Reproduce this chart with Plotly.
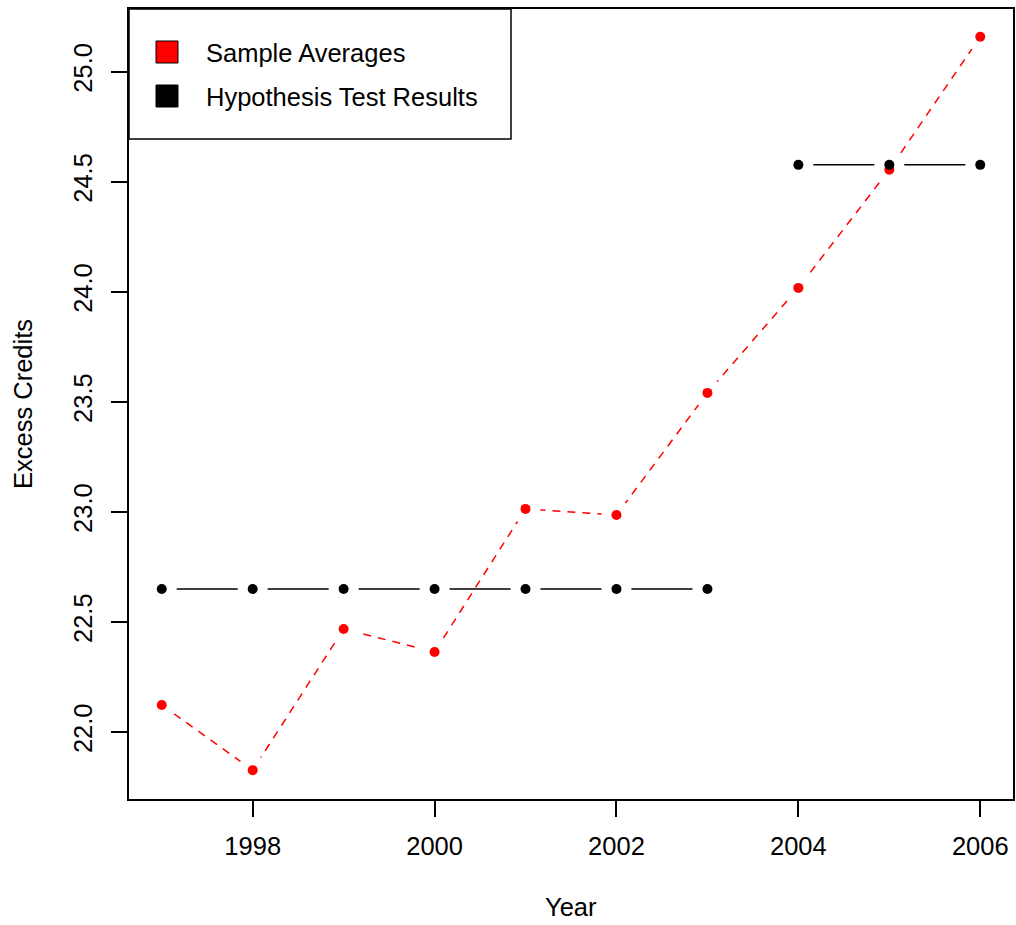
import plotly.graph_objects as go

years = [1997, 1998, 1999, 2000, 2001, 2002, 2003, 2004, 2005, 2006]
sample_averages = [22.123, 21.827, 22.468, 22.364, 23.014, 22.986, 23.541, 24.018, 24.555, 25.159]
hypothesis_results = [22.65, 22.65, 22.65, 22.65, 22.65, 22.65, 22.65, 24.577, 24.577, 24.577]
x_ticks = [1998, 2000, 2002, 2004, 2006]
y_ticks = [22.0, 22.5, 23.0, 23.5, 24.0, 24.5, 25.0]
legend_labels = ["Sample Averages", "Hypothesis Test Results"]

FONT = "Liberation Sans, Arial, sans-serif"
FS = 25.5

# break the hypothesis line where the tested value changes
hx, hy = [], []
for i, (x, y) in enumerate(zip(years, hypothesis_results)):
    if i > 0 and y != hypothesis_results[i - 1]:
        hx.append(None)
        hy.append(None)
    hx.append(x)
    hy.append(y)

fig = go.Figure()
# black line + halos (type = "b" gaps)
fig.add_trace(go.Scatter(x=hx, y=hy, mode="lines",
                         line=dict(color="black", width=1.5), hoverinfo="skip"))
fig.add_trace(go.Scatter(x=years, y=hypothesis_results, mode="markers",
                         marker=dict(color="white", size=30, line=dict(width=0)), hoverinfo="skip"))
# red dashed line + halos
fig.add_trace(go.Scatter(x=years, y=sample_averages, mode="lines",
                         line=dict(color="#FF0000", width=1.5, dash="8px,7px"), hoverinfo="skip"))
fig.add_trace(go.Scatter(x=years, y=sample_averages, mode="markers",
                         marker=dict(color="white", size=30, line=dict(width=0)), hoverinfo="skip"))
# points
fig.add_trace(go.Scatter(x=years, y=sample_averages, mode="markers",
                         marker=dict(color="#FF0000", size=10, line=dict(width=0))))
fig.add_trace(go.Scatter(x=years, y=hypothesis_results, mode="markers",
                         marker=dict(color="black", size=10, line=dict(width=0))))

axis_common = dict(showgrid=False, zeroline=False, showline=True, linecolor="black",
                   linewidth=1.5, mirror=True, ticks="outside", ticklen=16,
                   tickwidth=1.5, tickcolor="black",
                   tickfont=dict(family=FONT, size=FS, color="black"))

fig.update_xaxes(range=[1996.64, 2006.36], tickvals=x_ticks,
                 ticktext=[str(v) for v in x_ticks], ticklabelstandoff=8, **axis_common)
fig.update_yaxes(range=[21.696, 25.285], tickvals=y_ticks,
                 ticktext=[f"{v:.1f}" for v in y_ticks], tickangle=-90,
                 ticklabelstandoff=9, **axis_common)

W, H = 1016, 925
L, R, T, B = 129, 3, 9, 126
pw, ph = W - L - R, H - T - B


def px(x):
    return (x - L) / pw


def py(y):
    return (H - B - y) / ph


shapes = [
    dict(type="rect", xref="paper", yref="paper", x0=px(129), x1=px(511), y0=py(139), y1=py(9),
         line=dict(color="black", width=1.5), fillcolor="white", layer="above"),
    dict(type="rect", xref="paper", yref="paper", x0=px(156), x1=px(178), y0=py(63), y1=py(41),
         line=dict(color="black", width=1), fillcolor="#FF0000", layer="above"),
    dict(type="rect", xref="paper", yref="paper", x0=px(156), x1=px(178), y0=py(107), y1=py(85),
         line=dict(color="black", width=1), fillcolor="black", layer="above"),
]

annotations = [
    dict(xref="paper", yref="paper", x=px(204), y=py(53), text=legend_labels[0], showarrow=False,
         xanchor="left", yanchor="middle", font=dict(family=FONT, size=FS, color="black")),
    dict(xref="paper", yref="paper", x=px(204), y=py(97), text=legend_labels[1], showarrow=False,
         xanchor="left", yanchor="middle", font=dict(family=FONT, size=FS, color="black")),
    dict(xref="paper", yref="paper", x=0.5, y=py(907), text="Year", showarrow=False,
         xanchor="center", yanchor="middle", font=dict(family=FONT, size=FS, color="black")),
    dict(xref="paper", yref="paper", x=px(23), y=0.5, text="Excess Credits", showarrow=False,
         textangle=-90, xanchor="center", yanchor="middle",
         font=dict(family=FONT, size=FS, color="black")),
]

fig.update_layout(width=W, height=H, margin=dict(l=L, r=R, t=T, b=B, autoexpand=False),
                  paper_bgcolor="white", plot_bgcolor="white", showlegend=False,
                  shapes=shapes, annotations=annotations,
                  font=dict(family=FONT, size=FS, color="black"))

fig.write_html("out.html")
